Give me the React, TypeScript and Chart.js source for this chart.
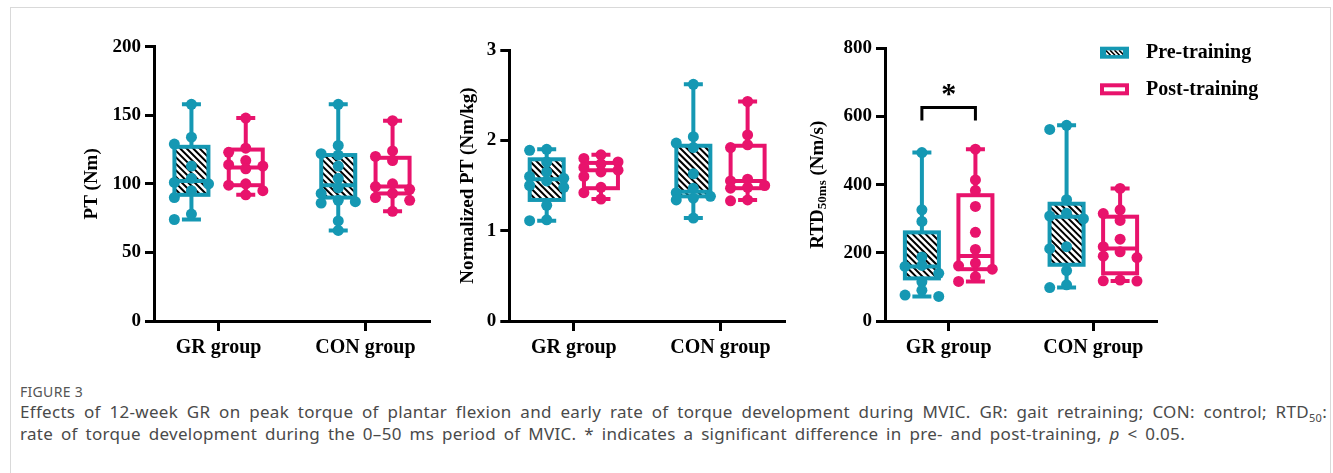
import React, { useEffect, useRef } from 'react';
import { Chart, registerables } from 'chart.js';

Chart.register(...registerables);

// ---------- data ----------
const groups = ['GR group', 'CON group'];
const seriesNames = ['Pre-training', 'Post-training'];

// PT (Nm)
const ptTicksStep = 50;
const ptPrePoints = [
  [158, 134, 129, 113, 104, 101, 100, 95, 90, 78, 74],
  [158, 128, 122, 121, 113, 104, 97, 93, 88, 87, 86, 73, 66],
];
const ptPostPoints = [
  [148, 126, 123, 117, 114, 113, 111, 100, 99, 95, 92],
  [146, 124, 120, 117, 100, 98, 96, 93, 90, 88, 80],
];
// [min, q1, median, q3, max]
const ptPreBox = [
  [74, 92, 102, 127, 158],
  [66, 90, 99, 121, 158],
];
const ptPostBox = [
  [92, 99, 112, 125, 148],
  [80, 93, 98, 119, 146],
];

// Normalized PT (Nm/kg)
const nptTicksStep = 1;
const nptPrePoints = [
  [1.9, 1.89, 1.76, 1.65, 1.6, 1.58, 1.55, 1.5, 1.48, 1.28, 1.12, 1.11],
  [2.62, 2.04, 1.97, 1.92, 1.63, 1.47, 1.42, 1.38, 1.36, 1.34, 1.14],
];
const nptPostPoints = [
  [1.84, 1.8, 1.76, 1.74, 1.7, 1.67, 1.65, 1.6, 1.48, 1.42, 1.35],
  [2.43, 2.06, 1.95, 1.92, 1.57, 1.55, 1.5, 1.48, 1.47, 1.34, 1.33],
];
const nptPreBox = [
  [1.11, 1.34, 1.57, 1.79, 1.9],
  [1.14, 1.38, 1.43, 1.94, 2.62],
];
const nptPostBox = [
  [1.35, 1.47, 1.67, 1.75, 1.84],
  [1.34, 1.47, 1.55, 1.94, 2.43],
];

// RTD50ms (Nm/s)
const rtdTicksStep = 200;
const rtdPrePoints = [
  [494, 326, 292, 188, 163, 160, 140, 115, 90, 76, 72],
  [574, 562, 356, 316, 308, 300, 218, 212, 148, 106, 98],
];
const rtdPostPoints = [
  [504, 414, 383, 336, 260, 210, 170, 162, 152, 130, 116],
  [389, 326, 315, 295, 240, 218, 203, 190, 186, 120, 118, 117],
];
const rtdPreBox = [
  [72, 125, 160, 260, 494],
  [98, 165, 306, 344, 574],
];
const rtdPostBox = [
  [116, 152, 191, 369, 504],
  [117, 140, 213, 306, 389],
];
const rtdSigValue = 626;
const rtdSigLegValue = 588;
const rtdStarValue = 678;

// ---------- style ----------
const PRE = '#1598B3';
const POST = '#E8136C';
const SERIF = "'Liberation Serif', 'Times New Roman', serif";
const GROUP_OFF = 0.185;
const BOX_HALF = 17;
const CAP_HALF = 9.5;

type Panel = {
  key: string;
  left: number; top: number; width: number; height: number;
  yWidth: number; xHeight: number; padTop: number; padRight: number;
  yMax: number; yStep: number;
  title: string; titleSub?: string; titleRest?: string; titleOffset: number;
  pre: number[][]; post: number[][]; preBox: number[][]; postBox: number[][];
  legend?: boolean;
  sig?: { group: number; value: number; leg: number; star: number };
};

const panels: Panel[] = [
  {
    key: 'pt', left: 60, top: 30, width: 380, height: 345,
    yWidth: 94, xHeight: 54, padTop: 16.7, padRight: 10,
    yMax: 200, yStep: ptTicksStep, title: 'PT (Nm)', titleOffset: 62,
    pre: ptPrePoints, post: ptPostPoints, preBox: ptPreBox, postBox: ptPostBox,
  },
  {
    key: 'npt', left: 440, top: 30, width: 355, height: 345,
    yWidth: 69.3, xHeight: 54, padTop: 20, padRight: 10,
    yMax: 3, yStep: nptTicksStep, title: 'Normalized PT (Nm/kg)', titleOffset: 41,
    pre: nptPrePoints, post: nptPostPoints, preBox: nptPreBox, postBox: nptPostBox,
  },
  {
    key: 'rtd', left: 795, top: 30, width: 480, height: 345,
    yWidth: 90, xHeight: 54, padTop: 18.3, padRight: 118,
    yMax: 800, yStep: rtdTicksStep, title: 'RTD', titleSub: '50ms', titleRest: ' (Nm/s)', titleOffset: 67,
    pre: rtdPrePoints, post: rtdPostPoints, preBox: rtdPreBox, postBox: rtdPostBox,
    legend: true,
    sig: { group: 0, value: rtdSigValue, leg: rtdSigLegValue, star: rtdStarValue },
  },
];

// simple beeswarm in data units (spread limited to the box edges)
function swarm(values: number[], center: number, yRange: number) {
  const pxX = 146;
  const pxY = 273 / yRange;
  const step = 17 / pxX;
  const placed: { x: number; y: number }[] = [];
  const sorted = [...values].sort((a, b) => b - a);
  for (const v of sorted) {
    let bestX = center;
    let bestD = -1;
    for (const k of [0, -1, 1]) {
      const x = center + k * step;
      const d = placed.length
        ? Math.min(...placed.map((p) => Math.hypot((p.x - x) * pxX, (p.y - v) * pxY)))
        : Infinity;
      if (d >= 8.5) { bestX = x; bestD = Infinity; break; }
      if (d > bestD) { bestD = d; bestX = x; }
    }
    placed.push({ x: bestX, y: v });
  }
  return placed;
}

function drawHatch(ctx: CanvasRenderingContext2D, x: number, y: number, w: number, h: number, spacing: number, lw: number) {
  ctx.save();
  ctx.beginPath();
  ctx.rect(x, y, w, h);
  ctx.clip();
  ctx.fillStyle = '#fff';
  ctx.fillRect(x, y, w, h);
  ctx.strokeStyle = '#000';
  ctx.lineWidth = lw;
  ctx.beginPath();
  for (let k = -h - spacing; k < w + spacing; k += spacing) {
    ctx.moveTo(x + k, y);
    ctx.lineTo(x + k + h, y + h);
  }
  ctx.stroke();
  ctx.restore();
}

const boxPlugin = {
  id: 'boxes',
  beforeDatasetsDraw(chart: any) {
    const p: Panel = chart.options.plugins.boxes.panel;
    const ctx: CanvasRenderingContext2D = chart.ctx;
    const xs = chart.scales.x;
    const ys = chart.scales.y;
    const sets: [number[][], string, boolean, number][] = [
      [p.preBox, PRE, true, -GROUP_OFF],
      [p.postBox, POST, false, GROUP_OFF],
    ];
    ctx.save();
    for (const [boxes, color, hatch, off] of sets) {
      boxes.forEach((st, gi) => {
        const cx = xs.getPixelForValue(gi + off);
        const [mn, q1, md, q3, mx] = st.map((v) => ys.getPixelForValue(v));
        ctx.strokeStyle = color;
        ctx.lineWidth = 4;
        ctx.lineCap = 'butt';
        ctx.beginPath();
        ctx.moveTo(cx, mx); ctx.lineTo(cx, q3);
        ctx.moveTo(cx, q1); ctx.lineTo(cx, mn);
        ctx.moveTo(cx - CAP_HALF, mx); ctx.lineTo(cx + CAP_HALF, mx);
        ctx.moveTo(cx - CAP_HALF, mn); ctx.lineTo(cx + CAP_HALF, mn);
        ctx.stroke();
        if (hatch) {
          drawHatch(ctx, cx - BOX_HALF, q3, BOX_HALF * 2, q1 - q3, 6.5, 2);
        } else {
          ctx.fillStyle = '#fff';
          ctx.fillRect(cx - BOX_HALF, q3, BOX_HALF * 2, q1 - q3);
        }
        ctx.strokeStyle = color;
        ctx.lineWidth = 4;
        ctx.strokeRect(cx - BOX_HALF, q3, BOX_HALF * 2, q1 - q3);
        ctx.beginPath();
        ctx.moveTo(cx - BOX_HALF, md); ctx.lineTo(cx + BOX_HALF, md);
        ctx.stroke();
      });
    }
    ctx.restore();
  },
  afterDraw(chart: any) {
    const p: Panel = chart.options.plugins.boxes.panel;
    const ctx: CanvasRenderingContext2D = chart.ctx;
    const area = chart.chartArea;
    const xs = chart.scales.x;
    const ys = chart.scales.y;
    ctx.save();
    // y title
    const tx = area.left - p.titleOffset;
    const ty = (area.top + area.bottom) / 2;
    ctx.translate(tx, ty);
    ctx.rotate(-Math.PI / 2);
    ctx.fillStyle = '#000';
    ctx.textBaseline = 'middle';
    ctx.textAlign = 'left';
    const mainFont = `bold 19px ${SERIF}`;
    const subFont = `bold 13px ${SERIF}`;
    ctx.font = mainFont;
    const w1 = ctx.measureText(p.title).width;
    let w2 = 0, w3 = 0;
    if (p.titleSub) {
      ctx.font = subFont;
      w2 = ctx.measureText(p.titleSub).width;
      ctx.font = mainFont;
      w3 = ctx.measureText(p.titleRest || '').width;
    }
    const W = w1 + w2 + w3;
    let x0 = -W / 2;
    ctx.font = mainFont;
    ctx.fillText(p.title, x0, 0);
    x0 += w1;
    if (p.titleSub) {
      ctx.font = subFont;
      ctx.fillText(p.titleSub, x0, 5);
      x0 += w2;
      ctx.font = mainFont;
      ctx.fillText(p.titleRest || '', x0, 0);
    }
    ctx.restore();

    // significance bracket
    if (p.sig) {
      const s = p.sig;
      const xa = xs.getPixelForValue(s.group - GROUP_OFF);
      const xb = xs.getPixelForValue(s.group + GROUP_OFF);
      const yt = ys.getPixelForValue(s.value);
      const yl = ys.getPixelForValue(s.leg);
      ctx.save();
      ctx.strokeStyle = '#000';
      ctx.lineWidth = 3;
      ctx.lineJoin = 'miter';
      ctx.beginPath();
      ctx.moveTo(xa, yl); ctx.lineTo(xa, yt); ctx.lineTo(xb, yt); ctx.lineTo(xb, yl);
      ctx.stroke();
      ctx.font = `bold 30px ${SERIF}`;
      ctx.fillStyle = '#000';
      ctx.textAlign = 'center';
      ctx.textBaseline = 'alphabetic';
      const m = ctx.measureText('*');
      const ys0 = ys.getPixelForValue(s.star);
      ctx.fillText('*', (xa + xb) / 2, ys0 + (m.actualBoundingBoxAscent - m.actualBoundingBoxDescent) / 2);
      ctx.restore();
    }

    // legend
    if (p.legend) {
      const lx = 305;
      const rows = [16.7, 53.3];
      ctx.save();
      rows.forEach((ry, i) => {
        const color = i === 0 ? PRE : POST;
        if (i === 0) {
          ctx.fillStyle = color;
          ctx.fillRect(lx, ry, 29, 12);
          drawHatch(ctx, lx + 6, ry + 3.5, 17, 5, 4.5, 1.6);
        } else {
          ctx.strokeStyle = color;
          ctx.lineWidth = 4;
          ctx.strokeRect(lx + 2, ry + 2, 25, 8);
        }
        ctx.fillStyle = '#000';
        ctx.font = `bold 20px ${SERIF}`;
        ctx.textAlign = 'left';
        ctx.textBaseline = 'middle';
        ctx.fillText(seriesNames[i], lx + 46, ry + 6.5);
      });
      ctx.restore();
    }
  },
};

function PanelChart({ p }: { p: Panel }) {
  const ref = useRef<HTMLCanvasElement | null>(null);
  useEffect(() => {
    if (!ref.current) return;
    const pre = p.pre.flatMap((vals, gi) => swarm(vals, gi - GROUP_OFF, p.yMax));
    const post = p.post.flatMap((vals, gi) => swarm(vals, gi + GROUP_OFF, p.yMax));
    const tickFont = { family: SERIF, size: 19, weight: 'bold' as const };
    const chart = new Chart(ref.current, {
      type: 'scatter',
      data: {
        datasets: [
          { label: seriesNames[0], data: pre, backgroundColor: PRE, borderColor: PRE, pointRadius: 5.5, pointBorderWidth: 0 },
          { label: seriesNames[1], data: post, backgroundColor: POST, borderColor: POST, pointRadius: 5.5, pointBorderWidth: 0 },
        ],
      },
      options: {
        responsive: false,
        maintainAspectRatio: false,
        animation: false,
        layout: { padding: { top: p.padTop, right: p.padRight, left: 0, bottom: 0 } },
        plugins: {
          legend: { display: false },
          tooltip: { enabled: false },
          // @ts-ignore
          boxes: { panel: p },
        },
        scales: {
          x: {
            type: 'linear',
            min: -0.44,
            max: 1.44,
            afterBuildTicks: (s: any) => { s.ticks = [{ value: 0 }, { value: 1 }]; },
            afterFit: (s: any) => { s.height = p.xHeight; },
            ticks: {
              callback: (v: any) => groups[Math.round(Number(v))],
              font: { family: SERIF, size: 20, weight: 'bold' },
              color: '#000',
              padding: 5,
              maxRotation: 0,
              autoSkip: false,
            },
            grid: { drawOnChartArea: false, drawTicks: true, tickLength: 10, tickWidth: 3, tickColor: '#000' },
            border: { display: true, color: '#000', width: 3 },
          },
          y: {
            min: 0,
            max: p.yMax,
            afterFit: (s: any) => { s.width = p.yWidth; },
            ticks: { stepSize: p.yStep, font: tickFont, color: '#000', padding: 4 },
            grid: { drawOnChartArea: false, drawTicks: true, tickLength: 9, tickWidth: 3, tickColor: '#000' },
            border: { display: true, color: '#000', width: 3 },
          },
        },
      },
      plugins: [boxPlugin],
    } as any);
    return () => chart.destroy();
  }, [p]);
  return (
    <canvas
      ref={ref}
      width={p.width}
      height={p.height}
      style={{ position: 'absolute', left: p.left, top: p.top, width: p.width, height: p.height }}
    />
  );
}

const captionLine: React.CSSProperties = {
  position: 'absolute',
  left: 20,
  fontFamily: "'Noto Sans', sans-serif",
  fontSize: 17,
  letterSpacing: 0.3,
  color: '#4a4a4a',
  lineHeight: '22px',
  height: 22,
  overflow: 'visible',
  textAlign: 'justify',
  textAlignLast: 'justify',
};

export default function App() {
  return (
    <div style={{ position: 'absolute', left: 0, top: 0, width: 1333, height: 473, background: '#fff', overflow: 'hidden' }}>
      <div style={{ position: 'absolute', left: 10, top: 7, width: 1321, height: 520, border: '1px solid #d9d9d9', boxSizing: 'border-box' }} />
      {panels.map((p) => (
        <PanelChart key={p.key} p={p} />
      ))}
      <div style={{ position: 'absolute', left: 20, top: 384, fontFamily: "'Noto Sans', sans-serif", fontSize: 14, letterSpacing: 0.3, color: '#555', whiteSpace: 'nowrap', lineHeight: '16px' }}>
        FIGURE 3
      </div>
      <div style={{ ...captionLine, top: 401, width: 1307 }}>
        Effects of 12-week GR on peak torque of plantar flexion and early rate of torque development during MVIC. GR: gait retraining; CON: control; RTD<sub style={{ fontSize: 11, lineHeight: 0 }}>50</sub>:
      </div>
      <div style={{ ...captionLine, top: 423, width: 1165 }}>
        rate of torque development during the 0–50 ms period of MVIC. * indicates a significant difference in pre- and post-training, <i>p</i> &lt; 0.05.
      </div>
    </div>
  );
}
